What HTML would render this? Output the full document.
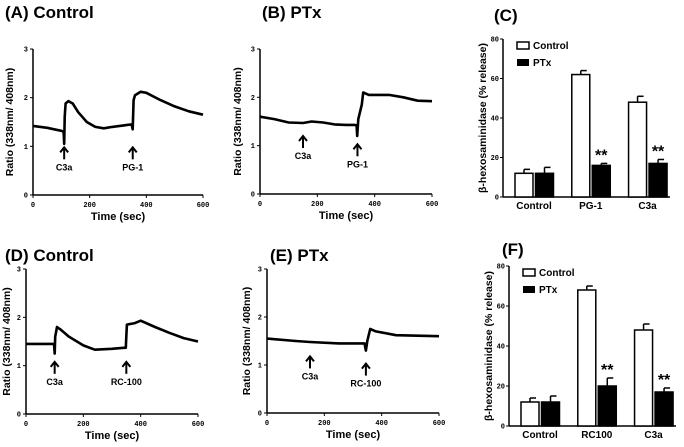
<!DOCTYPE html>
<html><head><meta charset="utf-8"><style>
html,body{margin:0;padding:0;background:#fff}
svg{display:block;font-family:"Liberation Sans",sans-serif}
.t{font-weight:bold;font-size:17px}
.tk{font-family:"Liberation Mono",monospace;font-size:7px;font-weight:bold}
.yl{font-weight:bold;font-size:10.5px}
.xl{font-weight:bold;font-size:11px}
.ar{font-weight:bold;font-size:9px}
</style></head><body>
<svg id="fig" width="684" height="447" viewBox="0 0 684 447"></svg>
<script>
// Trace data: [time(sec), ratio]
const timeA=[0,50,100,108,110,112,115,125,140,160,190,220,250,280,320,348,352,355,360,380,400,450,500,550,600];
const ratioA=[1.42,1.38,1.32,1.3,1.05,1.6,1.88,1.93,1.88,1.7,1.5,1.4,1.37,1.4,1.43,1.45,1.35,1.95,2.05,2.12,2.1,1.95,1.82,1.72,1.65];
const timeB=[0,50,100,150,180,220,260,300,330,337,339,343,355,360,380,450,500,550,600];
const ratioB=[1.6,1.55,1.48,1.47,1.5,1.48,1.44,1.43,1.43,1.42,1.2,1.55,1.85,2.1,2.05,2.05,2.0,1.93,1.92];
const timeD=[0,95,98,100,102,108,120,150,200,240,300,340,348,350,352,380,400,450,500,550,600];
const ratioD=[1.45,1.45,1.43,1.25,1.6,1.8,1.75,1.6,1.42,1.33,1.35,1.37,1.37,1.6,1.85,1.88,1.93,1.8,1.68,1.57,1.5];
const timeE=[0,100,150,250,340,345,350,360,380,450,600];
const ratioE=[1.55,1.5,1.48,1.45,1.45,1.3,1.5,1.75,1.7,1.62,1.6];
const xTicks=[0,200,400,600];
const yTicks=[0,1,2,3];
// Bar data
const groupsC=["Control","PG-1","C3a"];
const ctrlC=[12,62,48], ctrlErrC=[2,2,3];
const ptxC=[12,16,17], ptxErrC=[3,1,2];
const groupsF=["Control","RC100","C3a"];
const ctrlF=[12,68,48], ctrlErrF=[2,2,3];
const ptxF=[12,20,17], ptxErrF=[3,4,2];
const barTicks=[0,20,40,60,80];

const NS="http://www.w3.org/2000/svg";
const svg=document.getElementById('fig');
function mk(tag,attrs,parent,text){const e=document.createElementNS(NS,tag);for(const k in attrs)e.setAttribute(k,attrs[k]);if(text!==undefined)e.textContent=text;(parent||svg).appendChild(e);return e;}

function trace(cfg){
  const g=mk('g',{});
  
  
  const sx=t=>cfg.x0+(t/600)*(cfg.x1-cfg.x0);
  const sy=v=>cfg.y0-(v/3)*(cfg.y0-cfg.y3);
  const tt=mk('text',{x:cfg.tx,y:cfg.ty,class:'t'},g,cfg.title);
  
  
  mk('line',{x1:cfg.x0,y1:cfg.y3,x2:cfg.x0,y2:cfg.y0,stroke:'#000','stroke-width':1.5},g);
  mk('line',{x1:cfg.x0,y1:cfg.y0,x2:cfg.x1,y2:cfg.y0,stroke:'#000','stroke-width':1.5},g);
  yTicks.forEach(v=>{mk('line',{x1:cfg.x0-3,y1:sy(v),x2:cfg.x0,y2:sy(v),stroke:'#000'},g);
    const l=mk('text',{x:cfg.x0-5,y:sy(v)+2.5,'text-anchor':'end',class:'tk'},g,v);
    });
  xTicks.forEach(v=>{mk('line',{x1:sx(v),y1:cfg.y0,x2:sx(v),y2:cfg.y0+3,stroke:'#000'},g);
    const l=mk('text',{x:sx(v),y:cfg.y0+12,'text-anchor':'middle',class:'tk'},g,v);
    });
  const xl=mk('text',{x:(cfg.x0+cfg.x1)/2,y:cfg.y0+25,'text-anchor':'middle',class:'xl'},g,'Time (sec)');
  
  const cy=(cfg.y0+cfg.y3)/2, cx=cfg.x0-cfg.yo;
  const yl=mk('text',{x:cx,y:cy,'text-anchor':'middle',class:'yl',transform:`rotate(-90 ${cx} ${cy})`},g,'Ratio (338nm/ 408nm)');
  
  const pts=cfg.t.map((t,i)=>sx(t).toFixed(1)+','+sy(cfg.v[i]).toFixed(1)).join(' ');
  const pl=mk('polyline',{points:pts,fill:'none',stroke:'#000','stroke-width':2.6,'stroke-linejoin':'round'},g);
  
  cfg.arrows.forEach(a=>{const x=sx(a[0]),y=sy(a[1]);
    const ag=mk('g',{},g);
    
    mk('line',{x1:x,y1:y+1,x2:x,y2:y+13,stroke:'#000','stroke-width':2},ag);
    mk('polyline',{points:`${x-4},${y+6} ${x},${y+1} ${x+4},${y+6}`,fill:'none',stroke:'#000','stroke-width':2},ag);
    mk('text',{x:x,y:y+24,'text-anchor':'middle',class:'ar'},ag,a[2]);});
}
trace({name:'panel-a',title:'(A) Control',tx:5,ty:18,x0:33,x1:203,y0:195,y3:49,yo:20,t:timeA,v:ratioA,arrows:[[110,1.0,'C3a'],[352,1.0,'PG-1']]});
trace({name:'panel-b',title:'(B) PTx',tx:262,ty:18,x0:260,x1:432,y0:194,y3:49,yo:19,t:timeB,v:ratioB,arrows:[[150,1.22,'C3a'],[340,1.05,'PG-1']]});
trace({name:'panel-d',title:'(D) Control',tx:5,ty:261,x0:26,x1:198,y0:414,y3:269,yo:16,t:timeD,v:ratioD,arrows:[[100,1.1,'C3a'],[350,1.1,'RC-100']]});
trace({name:'panel-e',title:'(E) PTx',tx:270,ty:261,x0:267,x1:439,y0:413,y3:269,yo:17,t:timeE,v:ratioE,arrows:[[150,1.2,'C3a'],[345,1.05,'RC-100']]});

function bars(cfg){
  const g=mk('g',{});
  
  
  const sy=v=>cfg.y0-(v/80)*(cfg.y0-cfg.y80);
  const tt=mk('text',{x:cfg.tx,y:cfg.ty,class:'t'},g,cfg.title);
  
  mk('line',{x1:cfg.x0,y1:cfg.y80,x2:cfg.x0,y2:cfg.y0,stroke:'#000','stroke-width':1.5},g);
  mk('line',{x1:cfg.x0,y1:cfg.y0,x2:cfg.x1,y2:cfg.y0,stroke:'#000','stroke-width':1.5},g);
  barTicks.forEach(v=>{mk('line',{x1:cfg.x0-3,y1:sy(v),x2:cfg.x0,y2:sy(v),stroke:'#000'},g);
    const l=mk('text',{x:cfg.x0-4,y:sy(v)+2.5,'text-anchor':'end',class:'tk'},g,v);
    });
  const cy=(cfg.y0+cfg.y80)/2, cx=cfg.x0-17;
  const yl=mk('text',{x:cx,y:cy,'text-anchor':'middle',class:'yl',transform:`rotate(-90 ${cx} ${cy})`},g,'β-hexosaminidase (% release)');
  
  const bw=18, gw=(cfg.x1-cfg.x0)/3;
  cfg.groups.forEach((name,i)=>{
    const gx=cfg.x0+12+i*gw*1.02;
    [[cfg.ctrl,cfg.ce,'#fff','bar-control'],[cfg.ptx,cfg.pe,'#000','bar-ptx']].forEach((s,j)=>{
      const x=gx+j*(bw+2.5), v=s[0][i], e=s[1][i];
      mk('line',{x1:x+bw/2,y1:sy(v),x2:x+bw/2,y2:sy(v+e),stroke:'#000','stroke-width':1.5},g);
      mk('line',{x1:x+bw/2,y1:sy(v+e),x2:x+bw-3,y2:sy(v+e),stroke:'#000','stroke-width':1.5},g);
      const r=mk('rect',{x:x,y:sy(v),width:bw,height:sy(0)-sy(v),fill:s[2],stroke:'#000','stroke-width':1.5},g);
      
      if(j===1&&i>0){const st=mk('text',{x:x+bw/2,y:sy(v+e)-3,'text-anchor':'middle','font-size':'16','font-weight':'bold'},g,'**');
        }
    });
    const l=mk('text',{x:gx+bw+1,y:cfg.y0+12,'text-anchor':'middle','font-size':'10','font-weight':'bold'},g,name);
    
  });
  const lg=mk('g',{},g);
  
  mk('rect',{x:cfg.x0+14,y:cfg.y80+3,width:12,height:7,fill:'#fff',stroke:'#000','stroke-width':1.5},lg);
  mk('text',{x:cfg.x0+30,y:cfg.y80+10,'font-size':'10','font-weight':'bold'},lg,'Control');
  mk('rect',{x:cfg.x0+14,y:cfg.y80+20,width:12,height:7,fill:'#000'},lg);
  mk('text',{x:cfg.x0+30,y:cfg.y80+27,'font-size':'10','font-weight':'bold'},lg,'PTx');
}
bars({name:'panel-c',title:'(C)',tx:494,ty:21,x0:503,x1:670,y0:197,y80:39,groups:groupsC,ctrl:ctrlC,ce:ctrlErrC,ptx:ptxC,pe:ptxErrC});
bars({name:'panel-f',title:'(F)',tx:502,ty:255,x0:509,x1:676,y0:426,y80:266,groups:groupsF,ctrl:ctrlF,ce:ctrlErrF,ptx:ptxF,pe:ptxErrF});
</script>
</body></html>
